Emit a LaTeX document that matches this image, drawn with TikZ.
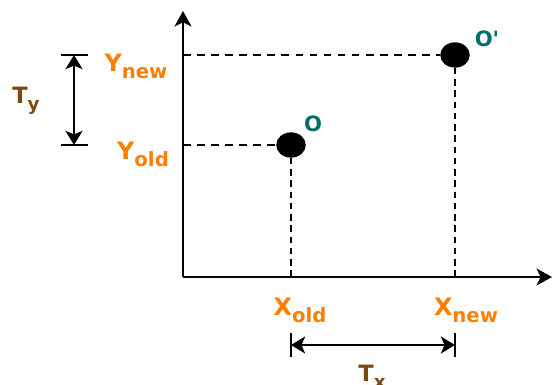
\documentclass[tikz,border=0pt]{standalone}
\usepackage{fontspec}
\setmainfont{DejaVu Sans}
\usetikzlibrary{arrows.meta,shapes.geometric}
\definecolor{coordorange}{HTML}{FF8000}
\definecolor{shiftbrown}{HTML}{7A4A12}
\definecolor{pointteal}{HTML}{00706B}
\newcommand{\coordlbl}[2]{\fontsize{17}{19}\selectfont\bfseries #1\raisebox{-5pt}{\fontsize{14}{16}\selectfont #2}}
\newcommand{\shiftlbl}[2]{\fontsize{16}{18}\selectfont\bfseries #1\raisebox{-5pt}{\fontsize{13}{15}\selectfont #2}}
\tikzset{
  axisline/.style={line width=2pt,-{Stealth[length=11pt,width=12pt,inset=3pt]}},
  guide/.style={line width=2pt,dash pattern=on 5.5pt off 4.5pt},
  drop/.style={line width=2pt,dash pattern=on 4.5pt off 3.5pt},
  shiftarrow/.style={line width=2pt,{Stealth[length=10pt,width=12pt,inset=2.5pt]}-{Stealth[length=10pt,width=12pt,inset=2.5pt]}},
  tickmark/.style={line width=2pt},
  dot/.style={ellipse,fill=black,inner sep=0pt,minimum width=21pt,minimum height=18pt},
  coordtxt/.style={text=coordorange},
  shifttxt/.style={text=shiftbrown},
  pointtxt/.style={text=pointteal,font=\fontsize{15}{17}\selectfont\bfseries}
}
\begin{document}
\begin{tikzpicture}[x=0.025cm,y=-0.025cm]
\useasboundingbox (0,0) rectangle (552,385);
% axes
\coordinate (orig) at (183,277);
\coordinate (ytop) at (183,11);
\coordinate (xend) at (552,277);
\draw[axisline] (orig) -- (ytop);
\draw[axisline] (orig) -- (xend);
% points
\node[dot] (O) at (291,145) {};
\node[dot] (Op) at (455,55) {};
\node[pointtxt] (Olbl) at (313,124) {O};
\node[pointtxt] (Oplbl) at (487,39) {O\textquotesingle};
% guides
\coordinate (yold) at (183,145);
\coordinate (ynew) at (183,55);
\coordinate (xold) at (291,277);
\coordinate (xnew) at (455,277);
\draw[guide] (yold) -- (O);
\draw[guide] (ynew) -- (Op);
\draw[drop] (O) -- (xold);
\draw[drop] (Op) -- (xnew);
% axis labels
\node[coordtxt] (Ynew) at (136,66) {\coordlbl{Y}{new}};
\node[coordtxt] (Yold) at (143,154) {\coordlbl{Y}{old}};
\node[coordtxt] (Xold) at (300,310) {\coordlbl{X}{old}};
\node[coordtxt] (Xnew) at (466,310) {\coordlbl{X}{new}};
% shift in y
\coordinate (tyt1) at (61,55);
\coordinate (tyt2) at (88,55);
\coordinate (tyb1) at (61,145);
\coordinate (tyb2) at (88,145);
\coordinate (tya) at (74,55);
\coordinate (tyb) at (74,145);
\draw[tickmark] (tyt1) -- (tyt2);
\draw[tickmark] (tyb1) -- (tyb2);
\draw[shiftarrow] (tya) -- (tyb);
\node[shifttxt] (Ty) at (26,101) {\shiftlbl{T}{y}};
% shift in x
\coordinate (txl1) at (291,333);
\coordinate (txl2) at (291,357);
\coordinate (txr1) at (455,333);
\coordinate (txr2) at (455,357);
\coordinate (txa) at (291,345);
\coordinate (txb) at (455,345);
\draw[tickmark] (txl1) -- (txl2);
\draw[tickmark] (txr1) -- (txr2);
\draw[shiftarrow] (txa) -- (txb);
\node[shifttxt] (Tx) at (372,377) {\shiftlbl{T}{x}};
\end{tikzpicture}
\end{document}
